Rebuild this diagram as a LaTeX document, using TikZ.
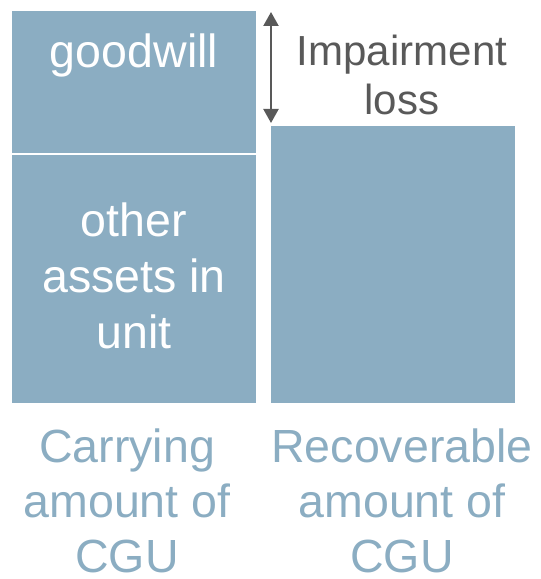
\documentclass[tikz,border=0pt]{standalone}
\usepackage{fontspec}
\setmainfont{Liberation Sans}
\usepackage{tikz}
\usetikzlibrary{arrows.meta}
\definecolor{CGUblue}{HTML}{8BADC2}
\definecolor{LossGray}{HTML}{595959}

\begin{document}
\begin{tikzpicture}[x=1bp, y=-1bp,
  block/.style={fill=CGUblue},
  inlabel/.style={text=white, font=\fontsize{46.7}{56}\selectfont, align=center, anchor=base, inner sep=0},
  outlabel/.style={text=CGUblue, font=\fontsize{46.7}{55}\selectfont, align=center, anchor=base, inner sep=0},
  losslabel/.style={text=LossGray, font=\fontsize{42.2}{50}\selectfont, align=center, anchor=base, inner sep=0}]
\useasboundingbox (0,0) rectangle (541,579);

% carrying amount: goodwill on top of the other assets
\fill [block] (12,11) rectangle (256,153);
\fill [block] (12,155) rectangle (256,403);

% recoverable amount
\fill [block] (271,126) rectangle (515,403);

% labels are placed at the baseline of their last line
\node [inlabel] (Goodwill) at (134,68) {goodwill};
\node [inlabel] (Assets) at (134,348) {other\\assets in\\unit};

\coordinate (LossTop) at (271,12);
\coordinate (LossBot) at (271,123);
\draw [{Triangle[width=15bp,length=14bp]}-{Triangle[width=15bp,length=14bp]}, line width=2.2bp, LossGray] (LossTop) -- (LossBot);
\node [losslabel] (Loss) at (402,115) {Impairment\\loss};

\node [outlabel] (Carrying) at (127,572) {Carrying\\amount of\\CGU};
\node [outlabel] (Recoverable) at (402,572) {Recoverable\\amount of\\CGU};
\end{tikzpicture}
\end{document}
